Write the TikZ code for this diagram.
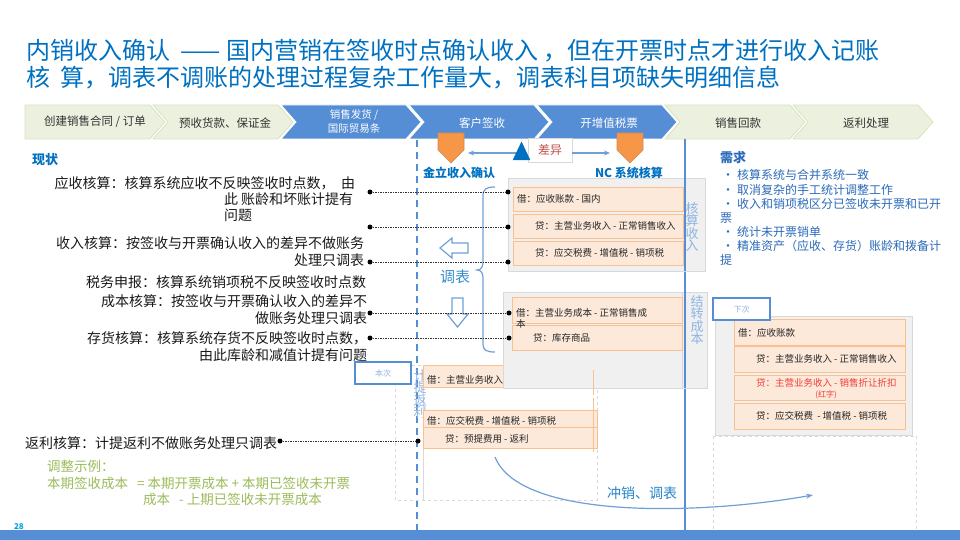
\documentclass[tikz,border=0pt]{standalone}
\usepackage{fontspec}
\setmainfont{Noto Sans CJK SC}
\usetikzlibrary{arrows.meta}
\definecolor{titleblue}{HTML}{0070C0}
\definecolor{chevblue}{HTML}{558ED5}
\definecolor{chevgreen}{HTML}{EBF1DE}
\definecolor{chevgreenline}{HTML}{D7E4BD}
\definecolor{markorange}{HTML}{F79646}
\definecolor{markline}{HTML}{C98A5A}
\definecolor{rowfill}{HTML}{FDE9D9}
\definecolor{rowline}{HTML}{FAC090}
\definecolor{boxgray}{HTML}{F0F0F0}
\definecolor{boxline}{HTML}{D9D9D9}
\definecolor{lightblue}{HTML}{8EB4E3}
\definecolor{midblue}{HTML}{6F9FD8}
\definecolor{bulletblue}{HTML}{2A6AB8}
\definecolor{notegreen}{HTML}{9BBB59}
\definecolor{diffred}{HTML}{C0504D}
\definecolor{brightred}{HTML}{F03C3C}
\definecolor{pagecyan}{HTML}{00A0E0}
\newcommand{\myfs}[2]{\fontsize{#1}{#2}\selectfont}
\newcommand{\bulit}{\makebox[15pt][l]{•}}
\begin{document}
\begin{tikzpicture}[x=1pt,y=-1pt,
  txt/.style={inner sep=0pt, outer sep=0pt},
  lt/.style={txt, font=\myfs{14}{17}, text=black!90},
  rowtxt/.style={txt, font=\myfs{9.5}{11}, text=black!85, anchor=west},
  rowbox/.style={fill=rowfill, draw=rowline, line width=0.6pt},
  graybox/.style={fill=boxgray, draw=boxline, line width=0.8pt},
  dashbox/.style={draw=boxline, dashed, line width=0.8pt},
  dot/.style={circle, fill=black, inner sep=0pt, minimum size=5pt},
  dotline/.style={black!80, line width=0.8pt, dash pattern=on 1.5pt off 1pt},
  vtxt/.style={txt, font=\myfs{13}{12.5}, text=lightblue, align=center},
  chevb/.style={fill=chevblue, draw=white, line width=0.8pt},
  chevg/.style={fill=chevgreen, draw=chevgreenline, line width=0.8pt},
  marker/.style={fill=markorange, draw=markline, line width=0.6pt},
  tagbox/.style={fill=white, draw=chevblue, line width=1.5pt},
  bul/.style={txt, anchor=west, font=\myfs{12}{14}, text=bulletblue},
  green/.style={txt, anchor=west, font=\myfs{13.5}{16}, text=notegreen}
]
\useasboundingbox (0,0) rectangle (960,540);
% Title
\node[txt, anchor=west, font=\myfs{24}{27}, text=titleblue] (t1) at (26,51) {内销收入确认\ \ —— 国内营销在签收时点确认收入 ，但在开票时点才进行收入记账};
\node[txt, anchor=west, font=\myfs{24}{27}, text=titleblue] (t2) at (26,78) {核\ \ 算，调表不调账的处理过程复杂工作量大，调表科目项缺失明细信息};
% Chevrons
\draw[chevg] (25,105) -- (150,105) -- (165,122) -- (150,139) -- (25,139) -- cycle;
\draw[chevg] (153,105) -- ++(125,0) -- ++(15,17) -- ++(-15,17) -- ++(-125,0) -- ++(15,-17) -- cycle;
\draw[chevb] (281,105) -- ++(125,0) -- ++(15,17) -- ++(-15,17) -- ++(-125,0) -- ++(15,-17) -- cycle;
\draw[chevb] (409,105) -- ++(125,0) -- ++(15,17) -- ++(-15,17) -- ++(-125,0) -- ++(15,-17) -- cycle;
\draw[chevb] (537,105) -- ++(125,0) -- ++(15,17) -- ++(-15,17) -- ++(-125,0) -- ++(15,-17) -- cycle;
\draw[chevg] (665,105) -- ++(125,0) -- ++(15,17) -- ++(-15,17) -- ++(-125,0) -- ++(15,-17) -- cycle;
\draw[chevg] (793,105) -- ++(125,0) -- ++(15,17) -- ++(-15,17) -- ++(-125,0) -- ++(15,-17) -- cycle;
\node[txt, font=\myfs{11.5}{13}, text=black!80] (c1) at (95,122) {创建销售合同 / 订单};
\node[txt, font=\myfs{11.5}{13}, text=black!80] (c2) at (225,123) {预收货款、保证金};
\node[txt, font=\myfs{10.5}{14}, text=white, align=center] (c3) at (354,122) {销售发货 /\\国际贸易条};
\node[txt, font=\myfs{11.5}{13}, text=white] (c4) at (482,123) {客户签收};
\node[txt, font=\myfs{11.5}{13}, text=white] (c5) at (609,123) {开增值税票};
\node[txt, font=\myfs{11.5}{13}, text=black!80] (c6) at (738,123) {销售回款};
\node[txt, font=\myfs{11.5}{13}, text=black!80] (c7) at (866,123) {返利处理};
% vertical lines
\coordinate (vd1) at (417,140); \coordinate (vd2) at (417,530);
\draw[chevblue, line width=2pt, dash pattern=on 7pt off 5pt] (vd1) -- (vd2);
\coordinate (vs1) at (685,139); \coordinate (vs2) at (685,530);
\draw[chevblue, line width=1.5pt] (vs1) -- (vs2);
% markers
\draw[marker] (438,133) -- (464,133) -- (464,150) -- (451,163) -- (438,150) -- cycle;
\draw[marker] (617,133) -- (643,133) -- (643,150) -- (630,163) -- (617,150) -- cycle;
\coordinate (ml) at (468,153); \coordinate (mr) at (610,153);
\node[txt, fill=white, draw=boxline, line width=0.5pt, minimum width=44pt, minimum height=24pt, font=\myfs{12}{14}, text=diffred] (diff) at (550,150) {差异};
\coordinate (triL) at (518,153);
\draw[midblue, line width=1.2pt, -{Stealth[length=6pt,width=5pt]}] (triL) -- (ml);
\draw[midblue, line width=1.2pt, -{Stealth[length=6pt,width=5pt]}] (diff.east |- mr) -- (mr);
\draw[fill=titleblue, draw=titleblue] (513,160) -- (530,160) -- (521.5,142) -- cycle;
\node[txt, font=\bfseries\myfs{12}{14}, text=titleblue] (jl) at (459,173) {金立收入确认};
\node[txt, font=\bfseries\myfs{12}{14}, text=titleblue] (nc) at (629,173) {NC 系统核算};
% Left status
\node[txt, anchor=west, font=\bfseries\myfs{13}{15}, text=titleblue] (xz) at (32,160) {现状};
\node[lt, anchor=east] (ys1) at (355,183) {应收核算：核算系统应收不反映签收时点数，\ \ 由};
\node[lt, anchor=west] (ys2) at (224,199) {此\ 账龄和坏账计提有};
\node[lt, anchor=west] (ys3) at (224,215) {问题};
\node[lt, anchor=east] (sr1) at (364,243) {收入核算：按签收与开票确认收入的差异不做账务};
\node[lt, anchor=east] (sr2) at (364,260) {处理只调表};
\node[lt, anchor=east] (sw1) at (366,282) {税务申报：核算系统销项税不反映签收时点数};
\node[lt, anchor=east] (cb1) at (367,301) {成本核算：按签收与开票确认收入的差异不};
\node[lt, anchor=east] (cb2) at (367,318) {做账务处理只调表};
\node[lt, anchor=east] (ch1) at (367,338) {存货核算：核算系统存货不反映签收时点数，};
\node[lt, anchor=east] (ch2) at (367,355) {由此库龄和减值计提有问题};
\node[lt, anchor=west] (fl) at (25,443) {返利核算：计提返利不做账务处理只调表};
\node[green] (g1) at (47,466) {调整示例：};
\node[green] (g2) at (47,483) {本期签收成本\ \ \ = 本期开票成本 + 本期已签收未开票};
\node[green] (g3) at (143,499) {成本\ \ \ - 上期已签收未开票成本};
% Bracket, adjustments
\draw[midblue, line width=1.2pt] (495,187) .. controls (486,187) and (483,189) .. (483,196) -- (483,262) .. controls (483,267) and (481,270) .. (477,270) .. controls (481,270) and (483,273) .. (483,278) -- (483,344) .. controls (483,350) and (486,352) .. (495,352);
\node[txt, font=\myfs{15}{17}, text=titleblue!80] (tb) at (455,277) {调表};
\draw[midblue, fill=white, line width=1.2pt] (440,248) -- (452,238) -- (452,243) -- (468,243) -- (468,253) -- (452,253) -- (452,258) -- cycle;
\draw[midblue, fill=white, line width=1.2pt] (452,298) -- (463,298) -- (463,314) -- (468,314) -- (457.5,327) -- (447,314) -- (452,314) -- cycle;
% Gray box 1
\draw[graybox] (508,178) rectangle (705,271);
\draw[rowbox] (513,187) rectangle (683,211);
\draw[rowbox] (513,214) rectangle (683,238);
\draw[rowbox] (513,241) rectangle (683,265);
\node[rowtxt] (a1) at (517,199) {借：应收账款 - 国内};
\node[rowtxt] (a2) at (535,226) {贷：主营业务收入 - 正常销售收入};
\node[rowtxt] (a3) at (535,253) {贷：应交税费 - 增值税 - 销项税};
\draw[chevblue, line width=1.5pt] (685,178) -- (685,271);
\node[vtxt] (hs) at (692,227) {核\\算\\收\\入};
% 本次 region
\draw[dashbox] (395,365) rectangle (597,500);
\draw[boxline, line width=0.8pt] (423,365) -- (423,500);
\node[vtxt] (jt) at (420,394) {计\\提\\返\\利};
\draw[rowbox] (423,365) rectangle (597,387);
\draw[rowbox] (423,410) rectangle (597,427);
\draw[rowbox] (423,427) rectangle (597,448);
\node[rowtxt] (b1) at (427,380) {借：主营业务收入};
\node[rowtxt] (b2) at (427,421) {借：应交税费 - 增值税 - 销项税};
\node[rowtxt] (b3) at (445,439) {贷：预提费用 - 返利};
\node[tagbox, txt, minimum width=56pt, minimum height=22pt, font=\myfs{8}{9}, text=lightblue] (bc) at (383,373) {本次};
% Gray box 2
\draw[graybox] (503,292) rectangle (707,388);
\draw[boxline, line width=0.8pt] (682,292) -- (682,388);
\draw[rowbox] (512,297) rectangle (682,323);
\draw[rowbox] (512,325) rectangle (682,350);
\node[rowtxt, align=left] (d1) at (516,318) {借：主营业务成本 - 正常销售成\\本};
\node[rowtxt] (d2) at (533,338) {贷：库存商品};
\draw[chevblue, line width=1.5pt] (685,292) -- (685,388);
\node[vtxt] (jz) at (697,320) {结\\转\\成\\本};
\draw[rowline, line width=0.8pt] (593,370) -- (593,395);
\draw[rowline, line width=0.8pt] (593,398) -- (593,452);
% dotted connectors
\node[dot] (l1) at (370,192) {}; \node[dot] (r1) at (508,192) {};
\node[dot] (l2) at (370,227) {}; \node[dot] (r2) at (508,227) {};
\node[dot] (l3) at (370,262) {}; \node[dot] (r3) at (508,262) {};
\node[dot] (l4) at (370,313) {}; \node[dot] (r4) at (509,313) {};
\node[dot] (l5) at (370,338) {}; \node[dot] (r5) at (509,338) {};
\node[dot] (l6) at (280,441) {}; \node[dot] (r6) at (418,441) {};
\draw[dotline] (l1) -- (r1);
\draw[dotline] (l2) -- (r2);
\draw[dotline] (l3) -- (r3);
\draw[dotline] (l4) -- (r4);
\draw[dotline] (l5) -- (r5);
\draw[dotline] (l6) -- (r6);
% Right needs
\node[txt, anchor=west, font=\bfseries\myfs{13}{15}, text=bulletblue] (xq) at (720,158) {需求};
\node[bul] (q1) at (722,175) {\bulit 核算系统与合并系统一致};
\node[bul] (q2) at (722,190) {\bulit 取消复杂的手工统计调整工作};
\node[bul] (q3) at (722,204) {\bulit 收入和销项税区分已签收未开票和已开};
\node[bul] (q3b) at (720,218) {票};
\node[bul] (q4) at (722,232) {\bulit 统计未开票销单};
\node[bul] (q5) at (722,246) {\bulit 精准资产（应收、存货）账龄和拨备计};
\node[bul] (q5b) at (720,260) {提};
% 下次 region
\draw[graybox] (715,316) rectangle (912,435);
\draw[rowbox] (734,319) rectangle (905,345);
\draw[rowbox] (734,346) rectangle (905,372);
\draw[rowbox] (734,375) rectangle (905,400);
\draw[rowbox] (734,403) rectangle (905,429);
\node[rowtxt] (e1) at (738,333) {借：应收账款};
\node[rowtxt] (e2) at (756,359) {贷：主营业务收入 - 正常销售收入};
\node[rowtxt, text=brightred] (e3) at (756,383) {贷：主营业务收入 - 销售折让折扣};
\node[txt, font=\myfs{8}{9}, text=brightred] (e3b) at (826,395) {(红字)};
\node[rowtxt] (e4) at (756,416) {贷：应交税费\ \ - 增值税 - 销项税};
\node[tagbox, txt, minimum width=57pt, minimum height=22pt, font=\myfs{8}{9}, text=lightblue] (xc) at (741.5,309) {下次};
\draw[dashbox] (713,436) -- (713,540) (916,436) -- (916,540) (713,436) -- (916,436);
% curve
\coordinate (cs) at (495,457); \coordinate (ce) at (813,495);
\draw[midblue, line width=1.2pt, -{Stealth[length=7pt,width=5pt]}] (cs) .. controls (520,520) and (700,515) .. (ce);
\node[txt, font=\myfs{14}{16}, text=titleblue!85] (cx) at (642,493) {冲销、调表};
% bottom bar
\fill[chevblue] (0,530) rectangle (960,540);
\node[txt, anchor=west, font=\bfseries\myfs{8}{9}, text=pagecyan] (pg) at (14,527) {28};
\end{tikzpicture}
\end{document}
